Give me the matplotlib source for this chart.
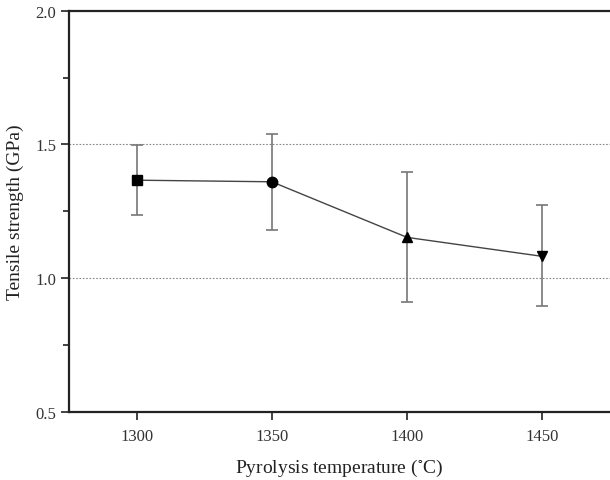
import numpy as np
import matplotlib
matplotlib.use('Agg')
import matplotlib.pyplot as plt
from matplotlib.ticker import MultipleLocator

plt.rcParams['font.family'] = ['Liberation Serif', 'DejaVu Serif']
plt.rcParams['mathtext.fontset'] = 'stix'

# data
temperature = [1300, 1350, 1400, 1450]
strength = [1.366, 1.360, 1.152, 1.081]
err_low = [1.235, 1.180, 0.909, 0.894]
err_high = [1.497, 1.537, 1.397, 1.272]
markers = ['s', 'o', '^', 'v']

fig = plt.figure(figsize=(6.1, 4.81), dpi=100)
ax = fig.add_axes([0.113, 0.142, 0.887, 0.8337])

lower = np.array(strength) - np.array(err_low)
upper = np.array(err_high) - np.array(strength)

ax.errorbar(temperature, strength, yerr=[lower, upper], fmt='none',
            ecolor='#777777', elinewidth=1.2, capsize=4, capthick=1.2, zorder=2)
ax.plot(temperature, strength, '-', color='#444444', lw=1.0, zorder=3)
for t, s, m in zip(temperature, strength, markers):
    ax.plot(t, s, marker=m, color='black', ms=7.5, ls='none', zorder=4)

ax.axhline(1.0, color='#888888', ls=(0, (1.5, 1.5)), lw=0.8, zorder=1)
ax.axhline(1.5, color='#888888', ls=(0, (1.5, 1.5)), lw=0.8, zorder=1)

ax.set_xlim(1275, 1475)
ax.set_ylim(0.5, 2.0)
ax.set_xticks(temperature)
ax.yaxis.set_major_locator(MultipleLocator(0.5))
ax.yaxis.set_minor_locator(MultipleLocator(0.25))
ax.yaxis.set_major_formatter(plt.FuncFormatter(lambda v, p: '%.1f' % v))

ax.spines['right'].set_visible(False)
for sp in ['left', 'bottom', 'top']:
    ax.spines[sp].set_linewidth(1.6)
    ax.spines[sp].set_color('#222222')

ax.tick_params(axis='both', which='major', direction='out', length=6, width=1.2,
               labelsize=12, colors='#222222', labelcolor='#333333')
ax.tick_params(axis='y', which='minor', direction='out', length=4, width=1.2, colors='#222222')
ax.tick_params(axis='x', which='major', pad=6)
ax.tick_params(axis='y', which='major', pad=3)

ax.set_xlabel(r'Pyrolysis temperature ($^{\circ}$C)', fontsize=14, labelpad=9, color='#222222')
ax.set_ylabel('Tensile strength (GPa)', fontsize=14, labelpad=8, color='#222222')

fig.savefig('out.png', dpi=100)
